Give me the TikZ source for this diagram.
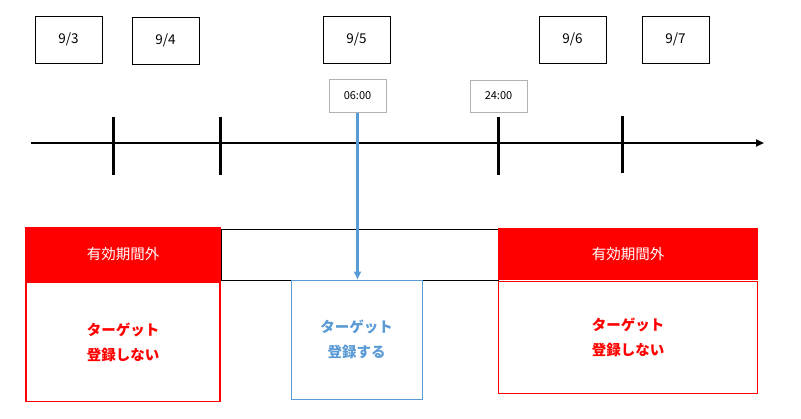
\documentclass[tikz,border=0pt]{standalone}
\usepackage{fontspec}
\setmainfont{Noto Sans CJK JP}
\usetikzlibrary{arrows.meta,positioning}
\definecolor{okblue}{RGB}{91,155,213}

\begin{document}
\begin{tikzpicture}
  [x=1pt,y=-1pt,>={Triangle[length=8pt,width=7pt]},%一个单位等于一个像素,y轴向下
   date/.style={rectangle,draw=black,line width=1pt,minimum width=67pt,minimum height=47pt,inner sep=0pt,font=\fontsize{13.5}{15}\selectfont},%日期方框
   time/.style={rectangle,draw=black!30,line width=1pt,minimum width=57pt,minimum height=33pt,inner sep=0pt,font=\fontsize{11}{13}\selectfont},%时刻方框,灰色边
   tick/.style={line width=3pt},%时间轴上的刻度
   invalid/.style={rectangle,fill=red,text=white,inner sep=0pt,font=\fontsize{14.5}{16}\selectfont},%有效期外的红色方块
   result/.style={rectangle,draw=red,text=red,line width=1.2pt,inner sep=0pt,align=center,font=\bfseries\fontsize{14.5}{25}\selectfont},%结果方框
   ok result/.style={result,draw=okblue,text=okblue,line width=1pt}]%继承result,改为蓝色

  \useasboundingbox (0,0) rectangle (801,418);

  % 日期
  \node [date] (d3) at (68.5,39.5)  {9/3};
  \node [date] (d4) at (165.5,40.5) {9/4};
  \node [date] (d5) at (356.5,39.5) {9/5};
  \node [date] (d6) at (572.5,39.5) {9/6};
  \node [date] (d7) at (675.5,39.5) {9/7};

  % 时刻
  \node [time] (t0600) at (357.5,95.5) {06:00};
  \node [time,minimum height=32pt] (t2400) at (498.5,96) {24:00};

  % 时间轴和刻度
  \coordinate (axisL) at (31,143);
  \coordinate (axisR) at (764,143);
  \draw [->,line width=2pt] (axisL) -- (axisR);
  \foreach \x/\n/\a/\b in {113/a/117/175,220/b/117/175,498/c/117/175,622/d/116/173}{%四个刻度
    \coordinate (\n top) at (\x,\a);
    \coordinate (\n bot) at (\x,\b);
    \draw [tick] (\n top) -- (\n bot);
  }

  % 有效期间
  \node [invalid,minimum width=196pt,minimum height=55pt] (o1) at (123,254.5) {有効期間外};
  \node [rectangle,draw=black,line width=0.9pt,minimum width=277pt,minimum height=51pt] (valid) at (359.5,254.5) {};
  \node [invalid,minimum width=260pt,minimum height=52pt] (o2) at (628,254) {有効期間外};

  % 结果
  \node [result,minimum width=194pt,minimum height=119pt] (r1) [below=0pt of o1] {ターゲット\\登録しない};
  \node [ok result,minimum width=131pt,minimum height=119pt] (ok) at (356.5,339.5) {ターゲット\\登録する};
  \node [result,minimum width=259pt,minimum height=112pt] (r2) [below=1pt of o2] {ターゲット\\登録しない};

  %从06:00向下画一条蓝色箭头到“登録する”
  \draw [->,okblue,line width=2.5pt] (t0600.south) -- (t0600.south |- ok.north);

\end{tikzpicture}
\end{document}
